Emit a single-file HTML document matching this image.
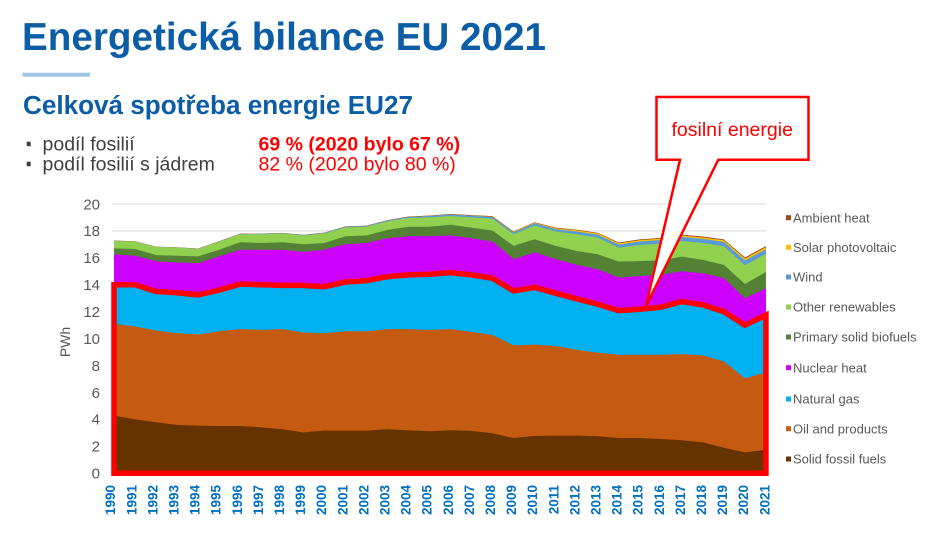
<!DOCTYPE html>
<html>
<head>
<meta charset="utf-8">
<style>
  html, body { margin: 0; padding: 0; background: #ffffff; }
  svg { display: block; font-family: "Liberation Sans", Arial, sans-serif; }
</style>
</head>
<body>
<svg width="945" height="534" viewBox="0 0 945 534" xmlns="http://www.w3.org/2000/svg">
  <rect x="0" y="0" width="945" height="534" fill="#ffffff"/>

  <!-- Title -->
  <text x="22" y="50" font-size="38.5" font-weight="bold" fill="#0b5ea6" textLength="524" lengthAdjust="spacingAndGlyphs">Energetická bilance EU 2021</text>
  <rect x="22.5" y="72.7" width="67.5" height="4" fill="#9dc4e3"/>

  <!-- Subtitle -->
  <text x="23" y="114" font-size="25.5" font-weight="bold" fill="#0b5ea6" textLength="390" lengthAdjust="spacingAndGlyphs">Celková spotřeba energie EU27</text>

  <!-- Bullets -->
  <rect x="26.7" y="141.7" width="4" height="4.5" fill="#404040"/>
  <rect x="26.7" y="161.7" width="4" height="4.5" fill="#404040"/>
  <text x="42.5" y="150.7" font-size="19.5" fill="#404040">podíl fosilií</text>
  <text x="42.5" y="170.7" font-size="19.5" fill="#404040">podíl fosilií s jádrem</text>
  <text x="258.5" y="150.7" font-size="19.5" font-weight="bold" fill="#ff0000">69 % (2020 bylo 67 %)</text>
  <text x="258.5" y="170.7" font-size="19.5" fill="#ff0000">82 % (2020 bylo 80 %)</text>

  <!-- Gridlines -->
  <g stroke="#d9d9d9" stroke-width="1">
    <line x1="112" y1="204" x2="766" y2="204"/>
    <line x1="112" y1="230.9" x2="766" y2="230.9"/>
    <line x1="112" y1="257.8" x2="766" y2="257.8"/>
    <line x1="112" y1="284.7" x2="766" y2="284.7"/>
    <line x1="112" y1="311.7" x2="766" y2="311.7"/>
    <line x1="112" y1="338.6" x2="766" y2="338.6"/>
    <line x1="112" y1="365.5" x2="766" y2="365.5"/>
    <line x1="112" y1="392.5" x2="766" y2="392.5"/>
    <line x1="112" y1="419.4" x2="766" y2="419.4"/>
    <line x1="112" y1="446.4" x2="766" y2="446.4"/>
  </g>

  <!-- Stacked areas in data coordinates -->
  <g transform="translate(114 473.3) scale(21.03 -13.47)">
    <!-- Ambient heat (total) -->
    <polygon fill="#9c4a1a" points="0,0 0,17.28 1,17.23 2,16.83 3,16.78 4,16.69 5,17.24 6,17.79 7,17.80 8,17.85 9,17.71 10,17.87 11,18.33 12,18.39 13,18.80 14,19.06 15,19.14 16,19.26 17,19.17 18,19.09 19,17.96 20,18.64 21,18.24 22,18.08 23,17.86 24,17.13 25,17.37 26,17.48 27,17.72 28,17.58 29,17.37 30,16.02 31,16.87 31,0"/>
    <!-- Solar -->
    <polygon fill="#ffc000" points="0,0 0,17.26 1,17.21 2,16.81 3,16.76 4,16.67 5,17.22 6,17.77 7,17.78 8,17.83 9,17.69 10,17.85 11,18.30 12,18.36 13,18.77 14,19.03 15,19.11 16,19.22 17,19.13 18,19.05 19,17.92 20,18.60 21,18.19 22,18.03 23,17.81 24,17.08 25,17.31 26,17.42 27,17.66 28,17.51 29,17.30 30,15.94 31,16.79 31,0"/>
    <!-- Wind -->
    <polygon fill="#5b9bd5" points="0,0 0,17.26 1,17.21 2,16.81 3,16.76 4,16.67 5,17.22 6,17.77 7,17.78 8,17.83 9,17.69 10,17.85 11,18.30 12,18.36 13,18.77 14,19.03 15,19.10 16,19.21 17,19.12 18,19.03 19,17.89 20,18.56 21,18.13 22,17.95 23,17.72 24,16.98 25,17.21 26,17.32 27,17.55 28,17.40 29,17.18 30,15.80 31,16.64 31,0"/>
    <!-- Other renewables -->
    <polygon fill="#92d050" points="0,0 0,17.25 1,17.2 2,16.8 3,16.75 4,16.65 5,17.2 6,17.75 7,17.75 8,17.8 9,17.65 10,17.8 11,18.25 12,18.3 13,18.7 14,18.95 15,19.0 16,19.1 17,19.0 18,18.9 19,17.75 20,18.4 21,17.95 22,17.75 23,17.5 24,16.75 25,16.95 26,17.05 27,17.25 28,17.1 29,16.85 30,15.45 31,16.3 31,0"/>
    <!-- Primary solid biofuels -->
    <polygon fill="#548235" points="0,0 0,16.7 1,16.65 2,16.2 3,16.15 4,16.1 5,16.6 6,17.15 7,17.1 8,17.15 9,17.0 10,17.1 11,17.6 12,17.65 13,18.07 14,18.3 15,18.3 16,18.45 17,18.24 18,18.02 19,16.88 20,17.38 21,16.88 22,16.5 23,16.26 24,15.72 25,15.75 26,15.8 27,16.09 28,15.84 29,15.47 30,14.05 31,14.95 31,0"/>
    <!-- Nuclear heat -->
    <polygon fill="#cc00ff" points="0,0 0,16.25 1,16.15 2,15.75 3,15.65 4,15.6 5,16.1 6,16.6 7,16.6 8,16.6 9,16.45 10,16.6 11,17.0 12,17.1 13,17.45 14,17.6 15,17.6 16,17.65 17,17.45 18,17.2 19,15.9 20,16.4 21,15.9 22,15.47 23,15.15 24,14.53 25,14.65 26,14.73 27,15.0 28,14.85 29,14.48 30,13.0 31,13.74 31,0"/>
    <!-- Natural gas -->
    <polygon fill="#00b0f0" points="0,0 0,14.0 1,14.0 2,13.5 3,13.4 4,13.25 5,13.6 6,14.05 7,14.0 8,13.95 9,13.95 10,13.85 11,14.2 12,14.3 13,14.6 14,14.73 15,14.78 16,14.9 17,14.73 18,14.48 19,13.54 20,13.8 21,13.37 22,12.95 23,12.55 24,12.08 25,12.18 26,12.33 27,12.75 28,12.5 29,12.0 30,11.0 31,11.75 31,0"/>
    <!-- Oil and products -->
    <polygon fill="#c55a11" points="0,0 0,11.1 1,10.9 2,10.6 3,10.4 4,10.3 5,10.55 6,10.7 7,10.65 8,10.7 9,10.45 10,10.4 11,10.55 12,10.55 13,10.7 14,10.7 15,10.65 16,10.7 17,10.5 18,10.27 19,9.5 20,9.55 21,9.45 22,9.16 23,8.96 24,8.8 25,8.8 26,8.8 27,8.85 28,8.75 29,8.3 30,7.05 31,7.5 31,0"/>
    <!-- Solid fossil fuels -->
    <polygon fill="#663300" points="0,0 0,4.28 1,4.0 2,3.79 3,3.59 4,3.54 5,3.51 6,3.51 7,3.42 8,3.27 9,3.04 10,3.17 11,3.17 12,3.17 13,3.27 14,3.2 15,3.12 16,3.2 17,3.15 18,2.97 19,2.62 20,2.78 21,2.8 22,2.8 23,2.75 24,2.62 25,2.62 26,2.55 27,2.45 28,2.3 29,1.9 30,1.55 31,1.75 31,0"/>
    <!-- Fossil outline -->
    <polygon fill="none" stroke="#ff0000" stroke-width="5.5" vector-effect="non-scaling-stroke" stroke-linejoin="miter" points="0,0 0,14.0 1,14.0 2,13.5 3,13.4 4,13.25 5,13.6 6,14.05 7,14.0 8,13.95 9,13.95 10,13.85 11,14.2 12,14.3 13,14.6 14,14.73 15,14.78 16,14.9 17,14.73 18,14.48 19,13.54 20,13.8 21,13.37 22,12.95 23,12.55 24,12.08 25,12.18 26,12.33 27,12.75 28,12.5 29,12.0 30,11.0 31,11.75 31,0"/>
  </g>

  <!-- Y axis labels -->
  <g font-size="15" fill="#595959" text-anchor="end">
    <text x="100" y="209.3">20</text>
    <text x="100" y="236.2">18</text>
    <text x="100" y="263.1">16</text>
    <text x="100" y="290">14</text>
    <text x="100" y="317">12</text>
    <text x="100" y="343.9">10</text>
    <text x="100" y="370.8">8</text>
    <text x="100" y="397.8">6</text>
    <text x="100" y="424.7">4</text>
    <text x="100" y="451.7">2</text>
    <text x="100" y="478.6">0</text>
  </g>
  <text transform="translate(70 342) rotate(-90)" font-size="14" fill="#595959" text-anchor="middle">PWh</text>

  <!-- X axis labels -->
  <g font-size="13.5" font-weight="bold" fill="#0070c0" text-anchor="end">
    <text transform="translate(115.2 485) rotate(-90)">1990</text>
    <text transform="translate(136.3 485) rotate(-90)">1991</text>
    <text transform="translate(157.4 485) rotate(-90)">1992</text>
    <text transform="translate(178.5 485) rotate(-90)">1993</text>
    <text transform="translate(199.6 485) rotate(-90)">1994</text>
    <text transform="translate(220.7 485) rotate(-90)">1995</text>
    <text transform="translate(241.8 485) rotate(-90)">1996</text>
    <text transform="translate(262.9 485) rotate(-90)">1997</text>
    <text transform="translate(284.0 485) rotate(-90)">1998</text>
    <text transform="translate(305.1 485) rotate(-90)">1999</text>
    <text transform="translate(326.2 485) rotate(-90)">2000</text>
    <text transform="translate(347.3 485) rotate(-90)">2001</text>
    <text transform="translate(368.4 485) rotate(-90)">2002</text>
    <text transform="translate(389.5 485) rotate(-90)">2003</text>
    <text transform="translate(410.6 485) rotate(-90)">2004</text>
    <text transform="translate(431.7 485) rotate(-90)">2005</text>
    <text transform="translate(452.8 485) rotate(-90)">2006</text>
    <text transform="translate(473.9 485) rotate(-90)">2007</text>
    <text transform="translate(495.0 485) rotate(-90)">2008</text>
    <text transform="translate(516.1 485) rotate(-90)">2009</text>
    <text transform="translate(537.2 485) rotate(-90)">2010</text>
    <text transform="translate(558.3 485) rotate(-90)">2011</text>
    <text transform="translate(579.4 485) rotate(-90)">2012</text>
    <text transform="translate(600.5 485) rotate(-90)">2013</text>
    <text transform="translate(621.6 485) rotate(-90)">2014</text>
    <text transform="translate(642.7 485) rotate(-90)">2015</text>
    <text transform="translate(663.8 485) rotate(-90)">2016</text>
    <text transform="translate(684.9 485) rotate(-90)">2017</text>
    <text transform="translate(706.0 485) rotate(-90)">2018</text>
    <text transform="translate(727.1 485) rotate(-90)">2019</text>
    <text transform="translate(748.2 485) rotate(-90)">2020</text>
    <text transform="translate(769.3 485) rotate(-90)">2021</text>
  </g>

  <!-- Legend -->
  <g>
    <rect x="786" y="215.2" width="5" height="5" fill="#9c4a1a"/>
    <rect x="786" y="244.8" width="5" height="5" fill="#ffc000"/>
    <rect x="786" y="274.5" width="5" height="5" fill="#5b9bd5"/>
    <rect x="786" y="304.5" width="5" height="5" fill="#92d050"/>
    <rect x="786" y="334.5" width="5" height="5" fill="#548235"/>
    <rect x="786" y="365.2" width="5" height="5" fill="#cc00ff"/>
    <rect x="786" y="396.5" width="5" height="5" fill="#00b0f0"/>
    <rect x="786" y="426.2" width="5" height="5" fill="#c55a11"/>
    <rect x="786" y="456.5" width="5" height="5" fill="#663300"/>
  </g>
  <g font-size="13" fill="#595959">
    <text x="793" y="222.3">Ambient heat</text>
    <text x="793" y="251.9">Solar photovoltaic</text>
    <text x="793" y="281.6">Wind</text>
    <text x="793" y="311.6">Other renewables</text>
    <text x="793" y="341.6">Primary solid biofuels</text>
    <text x="793" y="372.3">Nuclear heat</text>
    <text x="793" y="403.6">Natural gas</text>
    <text x="793" y="433.3">Oil and products</text>
    <text x="793" y="463.6">Solid fossil fuels</text>
  </g>

  <!-- Callout -->
  <path d="M656.5,97 H808.5 V159.7 H718.3 L646,306 L680,159.7 H656.5 Z" fill="#ffffff" stroke="#ff0000" stroke-width="2.5" stroke-linejoin="miter"/>
  <text x="671.5" y="136" font-size="19.5" fill="#ff0000">fosilní energie</text>
</svg>
</body>
</html>
